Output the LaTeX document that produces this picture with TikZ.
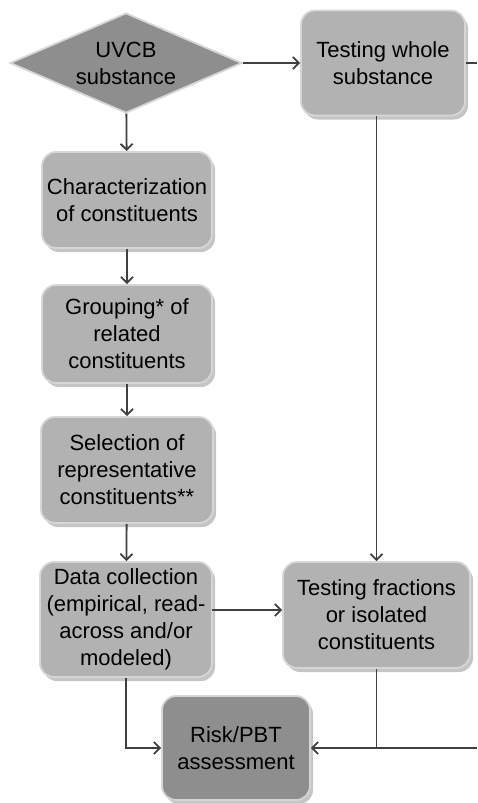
\documentclass[tikz,border=0pt]{standalone}
\usepackage{fontspec}
\setmainfont{Liberation Sans}
\usetikzlibrary{shapes.geometric,shadows,arrows.meta}
\definecolor{boxgray}{RGB}{178,178,178}
\definecolor{darkgray}{RGB}{142,142,142}
\definecolor{rimgray}{RGB}{214,214,214}
\tikzset{
  stepbox/.style={draw=rimgray, line width=1.8pt, fill=boxgray, rounded corners=14pt,
    align=center, inner sep=0pt, font=\fontsize{22}{27}\selectfont,
    drop shadow={opacity=0.45, shadow xshift=3pt, shadow yshift=-4pt}},
  flow/.style={line width=1.8pt, draw=black!75, -{Straight Barb[length=6pt,width=12pt]}},
  plain/.style={line width=1.8pt, draw=black!75}
}
\begin{document}
\begin{tikzpicture}[x=1pt,y=1pt]
			%%%%% START %%%%%
			\useasboundingbox[fill=white] (0,0) rectangle (477,-803);
			
			\node[diamond, aspect=2.32, draw=rimgray, line width=1.8pt, fill=darkgray, inner sep=0pt,
			  minimum width=232pt, minimum height=100pt, align=center,
			  font=\fontsize{22}{27}\selectfont] (uvcb) at (126,-63) {UVCB\\substance};
			\node[stepbox, minimum width=164pt, minimum height=105pt] (whole) at (383,-63) {Testing whole\\substance};
			
			\node[stepbox, minimum width=170pt, minimum height=96pt] (charac) at (127,-200) {Characterization\\of constituents};
			\node[stepbox, minimum width=170pt, minimum height=98pt] (group) at (127,-334) {Grouping* of\\related\\constituents};
			\node[stepbox, minimum width=172pt, minimum height=106pt] (select) at (127,-470) {Selection of\\representative\\constituents**};
			\node[stepbox, minimum width=172pt, minimum height=115pt] (data) at (126,-619.5) {Data collection\\(empirical, read-\\across and/or\\modeled)};
			\node[stepbox, minimum width=187pt, minimum height=106pt] (frac) at (376.5,-615) {Testing fractions\\or isolated\\constituents};
			\node[stepbox, fill=darkgray, minimum width=148pt, minimum height=104pt] (risk) at (236,-748) {Risk/PBT\\assessment};
			
			\coordinate (outtop) at (477,-63);
			\coordinate (outbot) at (477,-748);
			\coordinate (join) at (376.5,-748);
			\coordinate (dataout) at (212,-610);
			
			\draw[flow] (uvcb) -- (whole);
			\draw[plain] (whole.east) -- (outtop);
			\draw[flow] (uvcb) -- (charac);
			\draw[flow] (charac) -- (group);
			\draw[flow] (group) -- (select);
			\draw[flow] (select) -- (data);
			\draw[flow] (dataout) -- (dataout -| frac.west);
			\draw[flow] (whole.south -| frac.north) -- (frac.north);
			\draw[flow] (data.south) |- (risk.west);
			\draw[plain] (frac.south) -- (join);
			\draw[flow] (outbot) -- (risk.east);
			
			%%%%% END %%%%%
\end{tikzpicture}
\end{document}
